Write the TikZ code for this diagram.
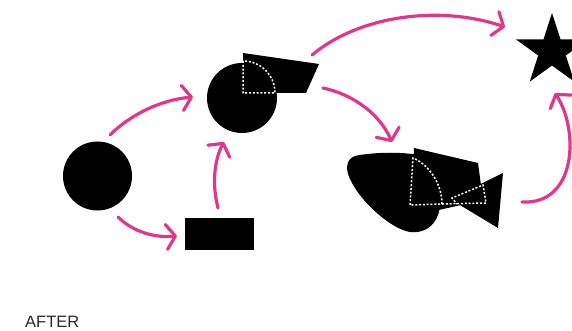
\documentclass[tikz,border=0pt]{standalone}
\usepackage{fontspec}
\setmainfont{Liberation Sans}
\usetikzlibrary{arrows.meta}
\definecolor{hotpink}{HTML}{E2358C}
\definecolor{txtgray}{HTML}{2A2A2A}
\tikzset{
  flow/.style={draw=hotpink, line width=3.2pt, line cap=round, line join=round,
    -{Straight Barb[length=9pt,width=25pt,line cap=round,line join=round]}},
  blk/.style={fill=black, draw=none},
  seam/.style={draw=white, line width=1.5pt, dash pattern=on 2pt off 1.8pt}
}
\begin{document}
\begin{tikzpicture}[x=1pt,y=-1pt]
\useasboundingbox (0,0) rectangle (572,331);
\begin{scope}
\clip (0,0) rectangle (572,331);
% first circle and rectangle
\node[circle, blk, minimum size=69pt, inner sep=0pt] (c1) at (97.5,176) {};
\node[rectangle, blk, minimum width=69pt, minimum height=32pt, inner sep=0pt] (rect) at (219.5,234) {};
% second shape: quad behind circle
\fill[black] (243,53) -- (319,64) -- (306,93) -- (243,93) -- cycle;
\node[circle, blk, minimum size=70pt, inner sep=0pt] (c2) at (242,98) {};
\draw[seam] (243,61) -- (243,93) -- (275,93) .. controls (275,75.3) and (260.7,61) .. (243,61);
% fish shape
\fill[black] (360,155) .. controls (380,152) and (400,152) .. (420,155) -- (440,200)
  .. controls (441,222) and (427,234) .. (410,232)
  .. controls (390,229) and (356,198) .. (348,174)
  .. controls (345,162) and (350,156) .. (360,155) -- cycle;
\fill[black] (414,148) -- (478,163) -- (483,200) -- (430,212) -- (412,208) -- cycle;
\fill[black] (503,173) -- (498,228) -- (450,199) -- cycle;
\draw[seam] (410,205) -- (413,158) .. controls (430,165) and (442,185) .. (442,204) -- (410,205);
\draw[seam] (442,204) -- (486,203) -- (483,185) -- (452,198) -- (457,204);
% star
\fill[black] (552,13) -- (560.5,39.3) -- (588.1,39.3) -- (565.8,55.5) -- (574.3,81.7)
  -- (552,65.5) -- (529.7,81.7) -- (538.2,55.5) -- (515.9,39.3) -- (543.5,39.3) -- cycle;
% connector ends
\coordinate (a1s) at (118,217); \coordinate (a1e) at (177,236);
\coordinate (a2s) at (218,208); \coordinate (a2e) at (224,142);
\coordinate (a3s) at (110,135); \coordinate (a3e) at (193,97);
\coordinate (a4s) at (312,55);  \coordinate (a4e) at (505,27);
\coordinate (a5s) at (323,88);  \coordinate (a5e) at (392,142);
\coordinate (a6s) at (522,202); \coordinate (a6e) at (555,93);
\draw[flow] (a1s) .. controls (133,232) and (155,238) .. (a1e);
\draw[flow] (a2s) .. controls (212,185) and (214,160) .. (a2e);
\draw[flow] (a3s) .. controls (130,115) and (160,100) .. (a3e);
\draw[flow] (a4s) .. controls (360,15) and (440,5) .. (a4e);
\draw[flow] (a5s) .. controls (355,95) and (380,115) .. (a5e);
\draw[flow] (a6s) .. controls (577,205) and (579,130) .. (a6e);
\end{scope}
\node[anchor=base west, inner sep=0pt, text=txtgray, font=\fontsize{16.5}{18}\selectfont] (label) at (25,327) {AFTER};
\end{tikzpicture}
\end{document}
